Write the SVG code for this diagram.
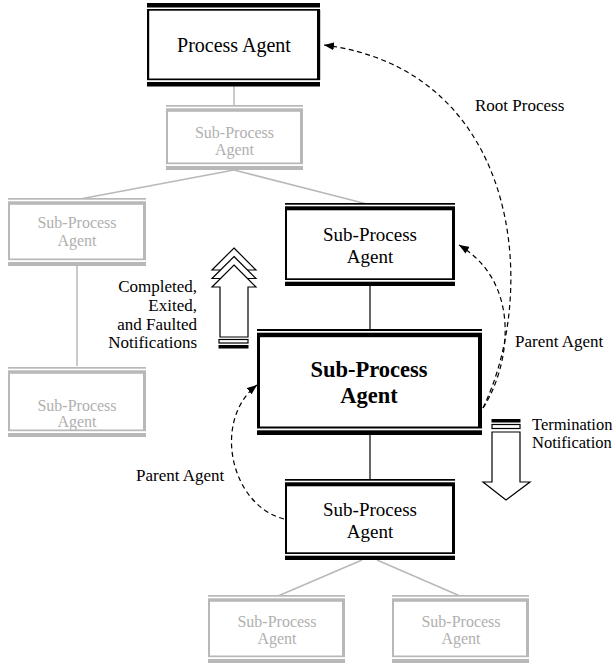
<svg xmlns="http://www.w3.org/2000/svg" width="613" height="665" viewBox="0 0 613 665">
<defs>
<style>
.k{fill:#000}
.g{fill:#b8b8b8}
.w{fill:#fff}
.t{font-family:"Liberation Serif","Times New Roman",serif;fill:#000}
.tg{font-family:"Liberation Serif","Times New Roman",serif;fill:#b0b0b0;font-size:16px;text-anchor:middle}
.gl{stroke:#b8b8b8;stroke-width:1.5;fill:none}
.bl{stroke:#000;stroke-width:1.2;fill:none}
.dash{stroke:#000;stroke-width:1.2;fill:none;stroke-dasharray:5,3.5}
.ha{fill:#fff;stroke:#000;stroke-width:1.2}
</style>
<marker id="ah" viewBox="0 0 10 8" refX="10" refY="4" markerWidth="10" markerHeight="8" markerUnits="userSpaceOnUse" orient="auto">
<path d="M0,0 L10,4 L0,8 z" fill="#000"/>
</marker>
</defs>
<rect width="613" height="665" fill="#fff"/>

<g id="connectors">
<line class="gl" x1="234" y1="86" x2="234" y2="105"/>
<line class="gl" x1="234" y1="170" x2="80" y2="199"/>
<line class="gl" x1="234" y1="170" x2="367" y2="204"/>
<line class="gl" x1="77" y1="266" x2="77" y2="366"/>
<line class="bl" x1="370" y1="286" x2="370" y2="329"/>
<line class="bl" x1="370" y1="435" x2="370" y2="479"/>
<line class="gl" x1="362" y1="560" x2="278" y2="596"/>
<line class="gl" x1="377" y1="560" x2="460" y2="596"/>
<path class="dash" d="M483 408 C540 290 520 70 324 45" marker-end="url(#ah)"/>
<path class="dash" d="M483 408 C508 370 525 285 459 245" marker-end="url(#ah)"/>
<path class="dash" d="M284 519 C230 505 212 420 257 385" marker-end="url(#ah)"/>
</g>

<g id="process-agent">
<rect class="w" x="147" y="3" width="173" height="83"/>
<rect class="k" x="147" y="3" width="173" height="4.5"/>
<rect class="k" x="147" y="9" width="173" height="1.7"/>
<rect class="k" x="147" y="78.5" width="173" height="1.7"/>
<rect class="k" x="147" y="82" width="173" height="4.5"/>
<rect class="k" x="147" y="10" width="2.2" height="70"/>
<rect class="k" x="317" y="10" width="3.2" height="70"/>
<text class="t" x="234" y="52" font-size="20" text-anchor="middle">Process Agent</text>
</g>

<g id="gray-sub-1">
<rect class="w" x="166" y="105" width="137" height="65"/>
<rect class="g" x="166" y="105" width="137" height="1.7"/>
<rect class="g" x="166" y="108.3" width="137" height="3.5"/>
<rect class="g" x="166" y="162.5" width="137" height="1.7"/>
<rect class="g" x="166" y="166" width="137" height="4"/>
<rect class="g" x="166" y="111" width="2" height="52"/>
<rect class="g" x="300" y="111" width="3" height="52"/>
<text class="tg" x="234.5" y="138">Sub-Process</text>
<text class="tg" x="234.5" y="155">Agent</text>
</g>

<g id="gray-sub-left-top">
<rect class="w" x="8" y="198" width="138" height="68"/>
<rect class="g" x="8" y="198" width="138" height="1.7"/>
<rect class="g" x="8" y="201.3" width="138" height="3.5"/>
<rect class="g" x="8" y="258.5" width="138" height="1.7"/>
<rect class="g" x="8" y="262" width="138" height="4"/>
<rect class="g" x="8" y="204" width="2" height="56"/>
<rect class="g" x="143" y="204" width="3" height="56"/>
<text class="tg" x="77" y="228">Sub-Process</text>
<text class="tg" x="77" y="246">Agent</text>
</g>

<g id="gray-sub-left-bottom">
<rect class="w" x="8" y="367" width="138" height="70"/>
<rect class="g" x="8" y="367" width="138" height="1.7"/>
<rect class="g" x="8" y="370.3" width="138" height="3.5"/>
<rect class="g" x="8" y="429.5" width="138" height="1.7"/>
<rect class="g" x="8" y="433" width="138" height="4"/>
<rect class="g" x="8" y="373" width="2" height="58"/>
<rect class="g" x="143" y="373" width="3" height="58"/>
<text class="tg" x="77" y="411">Sub-Process</text>
<text class="tg" x="77" y="427">Agent</text>
</g>

<g id="sub-upper">
<rect class="w" x="285" y="203" width="170" height="83"/>
<rect class="k" x="285" y="203" width="170" height="1.7"/>
<rect class="k" x="285" y="206.3" width="170" height="4"/>
<rect class="k" x="285" y="278.3" width="170" height="1.7"/>
<rect class="k" x="285" y="281.7" width="170" height="4.3"/>
<rect class="k" x="285" y="209" width="2" height="71"/>
<rect class="k" x="452" y="209" width="3" height="71"/>
<text class="t" x="370" y="241" font-size="19" text-anchor="middle">Sub-Process</text>
<text class="t" x="370" y="263" font-size="19" text-anchor="middle">Agent</text>
</g>

<g id="sub-main">
<rect class="w" x="257" y="329" width="225" height="106"/>
<rect class="k" x="257" y="329" width="225" height="2"/>
<rect class="k" x="257" y="332.7" width="225" height="4.5"/>
<rect class="k" x="257" y="426.5" width="225" height="2"/>
<rect class="k" x="257" y="430.3" width="225" height="4.7"/>
<rect class="k" x="257" y="336" width="3" height="92"/>
<rect class="k" x="478" y="336" width="4" height="92"/>
<text class="t" x="369" y="377" font-size="22.5" font-weight="bold" text-anchor="middle">Sub-Process</text>
<text class="t" x="369" y="403" font-size="22.5" font-weight="bold" text-anchor="middle">Agent</text>
</g>

<g id="sub-lower">
<rect class="w" x="285" y="479" width="170" height="81"/>
<rect class="k" x="285" y="479" width="170" height="1.7"/>
<rect class="k" x="285" y="482.3" width="170" height="4"/>
<rect class="k" x="285" y="552.3" width="170" height="1.7"/>
<rect class="k" x="285" y="555.7" width="170" height="4.3"/>
<rect class="k" x="285" y="485" width="2" height="69"/>
<rect class="k" x="452" y="485" width="3" height="69"/>
<text class="t" x="370" y="516" font-size="19" text-anchor="middle">Sub-Process</text>
<text class="t" x="370" y="538" font-size="19" text-anchor="middle">Agent</text>
</g>

<g id="gray-sub-bottom-left">
<rect class="w" x="208" y="595" width="137" height="68"/>
<rect class="g" x="208" y="595" width="137" height="1.7"/>
<rect class="g" x="208" y="598.3" width="137" height="3.5"/>
<rect class="g" x="208" y="655.5" width="137" height="1.7"/>
<rect class="g" x="208" y="659" width="137" height="4"/>
<rect class="g" x="208" y="601" width="2" height="56"/>
<rect class="g" x="342" y="601" width="3" height="56"/>
<text class="tg" x="277" y="627">Sub-Process</text>
<text class="tg" x="277" y="644">Agent</text>
</g>

<g id="gray-sub-bottom-right">
<rect class="w" x="392" y="595" width="137" height="68"/>
<rect class="g" x="392" y="595" width="137" height="1.7"/>
<rect class="g" x="392" y="598.3" width="137" height="3.5"/>
<rect class="g" x="392" y="655.5" width="137" height="1.7"/>
<rect class="g" x="392" y="659" width="137" height="4"/>
<rect class="g" x="392" y="601" width="2" height="56"/>
<rect class="g" x="526" y="601" width="3" height="56"/>
<text class="tg" x="461" y="627">Sub-Process</text>
<text class="tg" x="461" y="644">Agent</text>
</g>

<g id="up-arrow">
<polygon class="ha" points="234,248 256,270 212,270"/>
<polygon class="ha" points="234,256.5 256,278.5 212,278.5"/>
<polygon class="ha" points="234,265 256,287 248,287 248,337 220,337 220,287 212,287"/>
<rect class="ha" x="219" y="339.5" width="29" height="3.5"/>
<rect class="k" x="218.5" y="345" width="30" height="3.5"/>
<text class="t" font-size="17" text-anchor="end" x="197" y="292">Completed,</text>
<text class="t" font-size="17" text-anchor="end" x="197" y="311">Exited,</text>
<text class="t" font-size="17" text-anchor="end" x="197" y="330">and Faulted</text>
<text class="t" font-size="17" text-anchor="end" x="197" y="348">Notifications</text>
</g>

<g id="down-arrow">
<rect class="k" x="491.5" y="419" width="29" height="3.5"/>
<rect class="ha" x="492" y="424.5" width="28" height="4"/>
<polygon class="ha" points="492,432 520,432 520,482 530,482 506,500 483,482 492,482"/>
<text class="t" font-size="16.5" x="532" y="430">Termination</text>
<text class="t" font-size="16.5" x="532" y="448">Notification</text>
</g>

<g id="labels">
<text class="t" font-size="17" x="475" y="111">Root Process</text>
<text class="t" font-size="17" x="515" y="347">Parent Agent</text>
<text class="t" font-size="17" x="136" y="481">Parent Agent</text>
</g>
</svg>
